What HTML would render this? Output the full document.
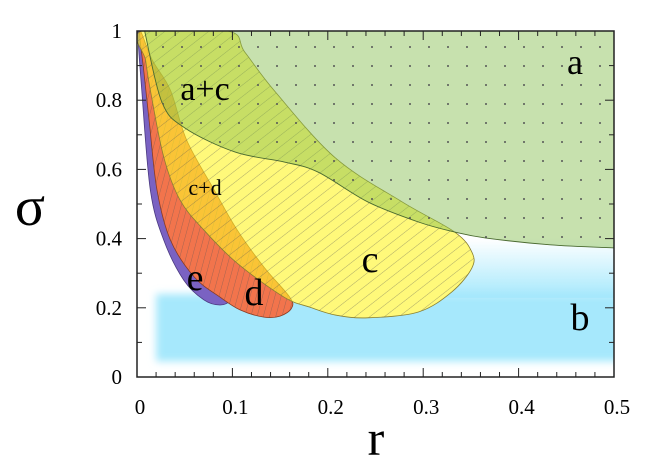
<!DOCTYPE html>
<html><head><meta charset="utf-8"><style>
html,body{margin:0;padding:0;background:#fff;}
svg{display:block;font-family:"Liberation Serif",serif;}
</style></head><body>
<svg id="chart" width="664" height="465" viewBox="0 0 664 465">
<defs>
<pattern id="hatchC" patternUnits="userSpaceOnUse" width="9" height="9" patternTransform="rotate(-38)">
<line x1="0" y1="0" x2="9" y2="0" stroke="#555" stroke-width="0.7" opacity="0.7"/></pattern>
<pattern id="hatchD" patternUnits="userSpaceOnUse" width="6" height="6" patternTransform="rotate(-75)">
<line x1="0" y1="0" x2="6" y2="0" stroke="#555" stroke-width="0.7" opacity="0.7"/></pattern>
<pattern id="dots" patternUnits="userSpaceOnUse" width="19" height="19" x="8" y="6">
<circle cx="3" cy="3" r="1" fill="#555"/></pattern>
<filter id="blur" x="-10%" y="-30%" width="120%" height="160%"><feGaussianBlur stdDeviation="4"/></filter>
<linearGradient id="fadeB" x1="0" y1="0" x2="0" y2="1">
<stop offset="0" stop-color="#a6e8fc" stop-opacity="0"/><stop offset="1" stop-color="#a6e8fc" stop-opacity="1"/></linearGradient>
<clipPath id="plotClip"><rect x="137" y="31" width="477" height="346"/></clipPath>
<mask id="noC" maskUnits="userSpaceOnUse" x="0" y="0" width="664" height="465">
<rect x="0" y="0" width="664" height="465" fill="#fff"/><path id="cMask" fill="#000"/></mask>
</defs>
<g id="plot" clip-path="url(#plotClip)"><g id="bLayer" mask="url(#noC)"></g></g>
<g id="axes"></g>
</svg>
<script>
const regionA = [[0.008,1.0],[0.026,0.795],[0.050,0.720],[0.103,0.650],[0.155,0.621],[0.190,0.592],[0.242,0.506],[0.295,0.448],[0.333,0.419],[0.365,0.402],[0.433,0.382],[0.5,0.373],[0.5,1.0]];
const regionC = [[0.005,1.0],[0.009,0.916],[0.014,0.829],[0.028,0.636],[0.045,0.512],[0.070,0.425],[0.105,0.329],[0.154,0.231],[0.181,0.202],[0.208,0.179],[0.242,0.171],[0.295,0.188],[0.330,0.246],[0.351,0.315],[0.351,0.361],[0.333,0.419],[0.278,0.506],[0.208,0.633],[0.145,0.824],[0.113,0.939],[0.095,1.0]];
const regionD = [[0.003,1.0],[0.016,0.916],[0.035,0.829],[0.052,0.685],[0.081,0.540],[0.105,0.425],[0.133,0.318],[0.160,0.231],[0.162,0.199],[0.150,0.176],[0.133,0.173],[0.108,0.194],[0.087,0.231],[0.060,0.289],[0.035,0.396],[0.021,0.540],[0.013,0.734],[0.007,0.887]];
const regionE = [[0.001,1.0],[0.005,0.829],[0.014,0.540],[0.028,0.396],[0.049,0.280],[0.070,0.223],[0.087,0.208],[0.096,0.223],[0.082,0.266],[0.061,0.315],[0.040,0.396],[0.026,0.540],[0.018,0.734],[0.009,0.916]];
const regionB = [0.02,0.5,0.045,0.24];
const xTicks = [0,0.1,0.2,0.3,0.4,0.5];
const yTicks = [0,0.2,0.4,0.6,0.8,1];
const xTickLabels = ["0","0.1","0.2","0.3","0.4","0.5"];
const yTickLabels = ["0","0.2","0.4","0.6","0.8","1"];

const X0=137,X1=614,Y0=377,Y1=31;
const sx=r=>X0+(X1-X0)*r/0.5;
const sy=s=>Y0-(Y0-Y1)*s;
const NS="http://www.w3.org/2000/svg";
const plot=document.getElementById('plot'), axes=document.getElementById('axes'), bLayer=document.getElementById('bLayer');
function el(tag,attrs,parent){const e=document.createElementNS(NS,tag);for(const k in attrs)e.setAttribute(k,attrs[k]);parent.appendChild(e);return e;}
function smoothPath(pts,closed){
  const p=pts.map(([r,s])=>[sx(r),sy(s)]);const n=p.length;let d=`M${p[0][0]},${p[0][1]}`;
  const g=i=>closed?p[(i+n)%n]:p[Math.max(0,Math.min(n-1,i))];
  const last=closed?n:n-1;
  for(let i=0;i<last;i++){const p0=g(i-1),p1=g(i),p2=g(i+1),p3=g(i+2);
    d+=` C${p1[0]+(p2[0]-p0[0])/6},${p1[1]+(p2[1]-p0[1])/6} ${p2[0]-(p3[0]-p1[0])/6},${p2[1]-(p3[1]-p1[1])/6} ${p2[0]},${p2[1]}`;}
  return d+'Z';
}
const cPath=smoothPath(regionC,true);
document.getElementById('cMask').setAttribute('d',cPath);
let b1=el('rect',{x:sx(regionB[0]),y:sy(regionB[3]),width:sx(regionB[1])-sx(regionB[0])+10,height:sy(regionB[2])-sy(regionB[3]),fill:'#a6e8fc',filter:'url(#blur)'},bLayer);


let b2=el('rect',{x:sx(0.2),y:sy(0.40),width:sx(0.5)-sx(0.2)+5,height:sy(regionB[3])-sy(0.40)+4,fill:'url(#fadeB)'},bLayer);


let e=el('path',{d:smoothPath(regionE,true),fill:'#7a62c2',stroke:'#4a3a80','stroke-width':0.8},plot);


let d=el('path',{d:smoothPath(regionD,true),fill:'#f2744c',stroke:'#8a3a20','stroke-width':0.8},plot);


let dh=el('path',{d:smoothPath(regionD,true),fill:'url(#hatchD)'},plot);


let c=el('path',{d:cPath,fill:'rgba(255,246,40,0.62)',stroke:'#8a8030','stroke-width':0.8},plot);


let ch=el('path',{d:cPath,fill:'url(#hatchC)'},plot);


let a=el('path',{d:smoothPath(regionA.slice(0,-1),false).replace(/Z$/,'')+` L${sx(0.5)+5},${sy(0.373)} L${sx(0.5)+5},${sy(1)-5} L${sx(0.008)},${sy(1)-5}Z`,fill:'rgba(130,188,75,0.45)',stroke:'#4a6a30','stroke-width':0.9},plot);


let ad=el('path',{d:a.getAttribute('d'),fill:'url(#dots)'},plot);


const labels=[["a",575,74,36,"label-a"],["a+c",205,100,34,"label-a-plus-c"],["c+d",205,195,22,"label-c-plus-d"],["e",195,290,38,"label-e"],["d",254,305,38,"label-d"],["c",370,272,38,"label-c"],["b",580,330,38,"label-b"]];
labels.forEach(([t,x,y,fs,nm])=>{const l=el('text',{x:x,y:y,'font-size':fs,'text-anchor':'middle',fill:'#000'},plot);l.textContent=t;

});
let fr=el('rect',{x:X0,y:Y1,width:X1-X0,height:Y0-Y1,fill:'none',stroke:'#222','stroke-width':1.5},axes);


for(let i=0;i<=25;i++){const r=i*0.02,x=sx(r),L=(i%5==0)?9:5;
  el('line',{x1:x,y1:Y0,x2:x,y2:Y0-L,stroke:'#222','stroke-width':1},axes);
  el('line',{x1:x,y1:Y1,x2:x,y2:Y1+L,stroke:'#222','stroke-width':1},axes);}
for(let i=0;i<=10;i++){const y=sy(i*0.1),L=(i%2==0)?9:5;
  el('line',{x1:X0,y1:y,x2:X0+L,y2:y,stroke:'#222','stroke-width':1},axes);
  el('line',{x1:X1,y1:y,x2:X1-L,y2:y,stroke:'#222','stroke-width':1},axes);}
xTicks.forEach((v,i)=>{const t=el('text',{x:sx(v)+3,y:414,'font-size':21,'text-anchor':'middle'},axes);t.textContent=xTickLabels[i];

});
yTicks.forEach((v,i)=>{const t=el('text',{x:122,y:sy(v)+7,'font-size':21,'text-anchor':'end'},axes);t.textContent=yTickLabels[i];

});
let xt=el('text',{x:376,y:455,'font-size':50,'text-anchor':'middle'},axes);xt.textContent='r';


let yt=el('text',{x:30,y:225,'font-size':56,'text-anchor':'middle'},axes);yt.textContent='σ';


</script>
</body></html>
